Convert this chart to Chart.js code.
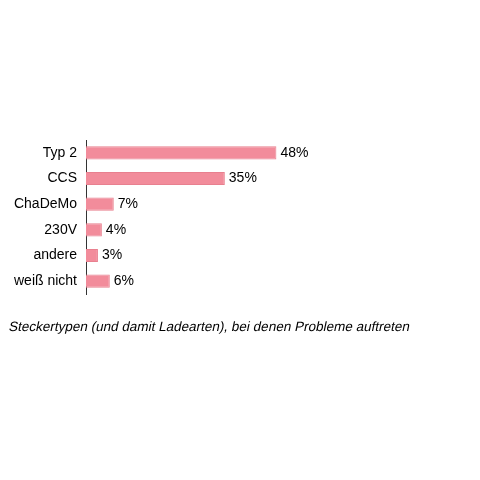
<!DOCTYPE html>
<html>
<head>
<meta charset="utf-8">
<script src="https://cdn.jsdelivr.net/npm/chart.js@4"></script>
<style>
html,body{margin:0;padding:0;background:#fff;}
#wrap{width:480px;height:480px;}
</style>
</head>
<body>
<div id="wrap"><canvas id="c" width="480" height="480"></canvas></div>
<script>
const categories = ["Typ 2", "CCS", "ChaDeMo", "230V", "andere", "weiß nicht"];
const values = [48, 35, 7, 4, 3, 6];
const valueLabels = ["48%", "35%", "7%", "4%", "3%", "6%"];
const caption = "Steckertypen (und damit Ladearten), bei denen Probleme auftreten";

const FONT = '"Liberation Sans", Arial, sans-serif';

const valueLabelPlugin = {
  id: 'valueLabels',
  afterDatasetsDraw(chart) {
    const ctx = chart.ctx;
    const meta = chart.getDatasetMeta(0);
    ctx.save();
    ctx.font = '14px ' + FONT;
    ctx.fillStyle = '#000';
    ctx.textAlign = 'left';
    ctx.textBaseline = 'middle';
    meta.data.forEach((bar, i) => {
      ctx.fillText(valueLabels[i], bar.x + 4, bar.y);
    });
    ctx.restore();
  }
};

const captionPlugin = {
  id: 'caption',
  afterDraw(chart) {
    const ctx = chart.ctx;
    const x = 9, y = 327;
    ctx.save();
    ctx.translate(x, y);
    ctx.transform(1, 0, -0.21, 1, 0, 0);
    ctx.font = '13.5px ' + FONT;
    ctx.fillStyle = '#000';
    ctx.textAlign = 'left';
    ctx.textBaseline = 'middle';
    ctx.fillText(caption, 0, 0);
    ctx.restore();
  }
};

new Chart(document.getElementById('c'), {
  type: 'bar',
  data: {
    labels: categories,
    datasets: [{
      data: values,
      backgroundColor: '#F28C9B',
      borderColor: '#E8808F',
      borderWidth: 1,
      categoryPercentage: 1,
      barPercentage: 0.51
    }]
  },
  options: {
    indexAxis: 'y',
    responsive: false,
    animation: false,
    devicePixelRatio: 1,
    layout: { padding: { left: 9, top: 140, right: 156, bottom: 186 } },
    plugins: {
      legend: { display: false },
      tooltip: { enabled: false },
      title: { display: false }
    },
    scales: {
      x: { display: false, min: 0, max: 60 },
      y: {
        afterFit(scale) { scale.width = 77; },
        grid: { display: false, drawTicks: false },
        border: { display: true, color: '#333', width: 1 },
        ticks: {
          color: '#000',
          padding: 9,
          font: { family: FONT, size: 14 }
        }
      }
    }
  },
  plugins: [valueLabelPlugin, captionPlugin]
});
</script>
</body>
</html>
